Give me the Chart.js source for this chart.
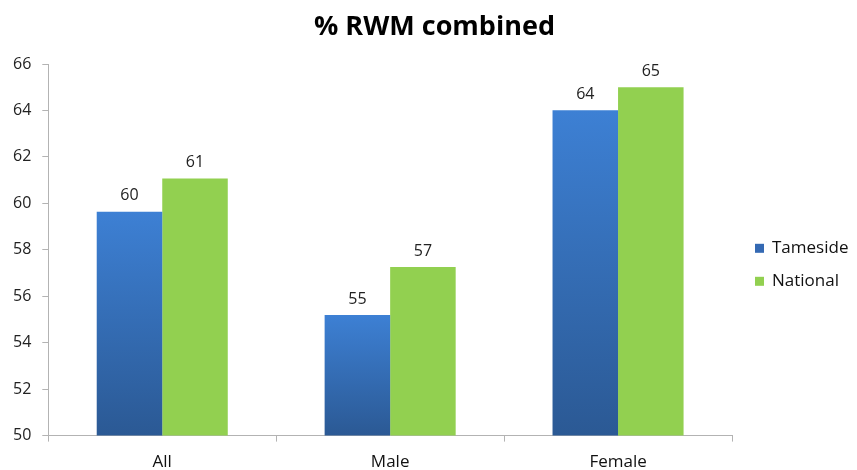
<!DOCTYPE html>
<html>
<head>
<meta charset="utf-8">
<script src="https://cdn.jsdelivr.net/npm/chart.js@4/dist/chart.umd.min.js"></script>
<style>
  html, body { margin: 0; padding: 0; background: #fff; }
  #wrap { width: 857px; height: 470px; }
</style>
</head>
<body>
<div id="wrap"><canvas id="rwm-chart"></canvas></div>
<script>
const categories = ['All', 'Male', 'Female'];
const tamesideValues = [59.64, 55.19, 64.01];
const nationalValues = [61.07, 57.26, 65.0];
const yTicks = [50, 52, 54, 56, 58, 60, 62, 64, 66];
const seriesNames = ['Tameside', 'National'];
const chartTitle = '% RWM combined';

const font = "'Open Sans', 'Liberation Sans', sans-serif";
const legendColors = ['#3469b3', '#92d050'];

function blueGradient(context) {
  const chart = context.chart;
  const area = chart.chartArea;
  if (!area || context.type !== 'data') return '#3a78c9';
  const y = chart.scales.y;
  const top = y.getPixelForValue(context.raw);
  const bottom = y.getPixelForValue(y.min);
  const g = chart.ctx.createLinearGradient(0, top, 0, bottom);
  g.addColorStop(0, '#3d80d4');
  g.addColorStop(1, '#2b5994');
  return g;
}

// value labels above each bar
const valueLabels = {
  id: 'valueLabels',
  afterDatasetsDraw(chart) {
    const ctx = chart.ctx;
    ctx.save();
    ctx.font = '16px ' + font;
    ctx.fillStyle = '#222';
    ctx.textAlign = 'center';
    ctx.textBaseline = 'bottom';
    chart.data.datasets.forEach((ds, i) => {
      chart.getDatasetMeta(i).data.forEach((bar, j) => {
        ctx.fillText(Math.round(ds.data[j]), bar.x, bar.y - 8);
      });
    });
    ctx.restore();
  }
};

// title centred on the whole canvas, legend on the right
const frame = {
  id: 'frame',
  afterDraw(chart) {
    const ctx = chart.ctx;
    const a = chart.chartArea;
    ctx.save();
    ctx.font = 'bold 27px ' + font;
    ctx.fillStyle = '#000';
    ctx.textAlign = 'center';
    ctx.textBaseline = 'middle';
    ctx.fillText(chartTitle, chart.width / 2 + 6, 27);

    const x = a.right + 23;
    const yMid = (a.top + a.bottom) / 2 + 15;
    ctx.font = '17px ' + font;
    ctx.textAlign = 'left';
    seriesNames.forEach((name, i) => {
      const y = yMid + (i - 0.5) * 33;
      ctx.fillStyle = legendColors[i];
      ctx.fillRect(x, y - 4.5, 9, 9);
      ctx.fillStyle = '#111';
      ctx.fillText(name, x + 17, y);
    });
    ctx.restore();
  }
};

new Chart(document.getElementById('rwm-chart'), {
  type: 'bar',
  data: {
    labels: categories,
    datasets: [
      {
        label: seriesNames[0],
        data: tamesideValues,
        backgroundColor: blueGradient,
        borderWidth: 0
      },
      {
        label: seriesNames[1],
        data: nationalValues,
        backgroundColor: '#92d050',
        borderWidth: 0
      }
    ]
  },
  options: {
    responsive: true,
    maintainAspectRatio: false,
    animation: false,
    categoryPercentage: 0.575,
    barPercentage: 1.0,
    layout: { padding: { left: 2, right: 125, top: 64, bottom: -12 } },
    scales: {
      y: {
        min: 50,
        max: 66,
        afterBuildTicks(axis) { axis.ticks = yTicks.map(v => ({ value: v })); },
        border: { color: '#b3b3b3' },
        grid: { drawOnChartArea: false, tickLength: 6, color: '#b3b3b3' },
        ticks: { color: '#222', font: { family: font, size: 16 }, padding: 11 }
      },
      x: {
        border: { color: '#b3b3b3' },
        grid: { drawOnChartArea: false, tickLength: 6, color: '#b3b3b3' },
        ticks: { color: '#111', font: { family: font, size: 17 }, padding: 10 }
      }
    },
    plugins: {
      title: { display: false },
      legend: { display: false },
      tooltip: { enabled: false }
    }
  },
  plugins: [valueLabels, frame]
});
</script>
</body>
</html>
